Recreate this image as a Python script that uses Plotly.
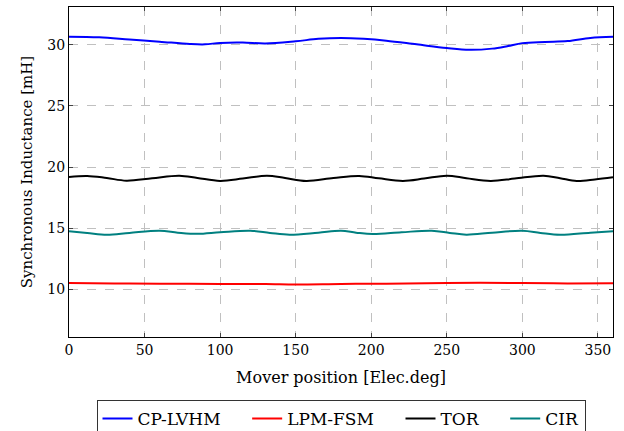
import plotly.graph_objects as go

# Mover position samples [electrical degrees] and synchronous inductance [mH]
pos_cp = [0, 20, 40, 60, 80, 90, 100, 115, 130, 150, 165, 180, 195, 210, 230, 250, 265, 280, 290, 300, 315, 330, 345, 360]
cp_lvhm = [30.68, 30.63, 30.45, 30.27, 30.08, 30.05, 30.17, 30.2, 30.12, 30.3, 30.5, 30.57, 30.5, 30.35, 30.05, 29.75, 29.6, 29.7, 29.9, 30.15, 30.25, 30.32, 30.58, 30.68]

pos_lpm = [0, 30, 60, 100, 130, 150, 180, 210, 250, 300, 330, 360]
lpm_fsm = [10.5, 10.45, 10.44, 10.42, 10.42, 10.38, 10.42, 10.44, 10.5, 10.5, 10.46, 10.47]

pos_tor = [0, 12, 25, 38, 55, 73, 85, 100, 115, 131, 143, 157, 175, 192, 205, 221, 235, 250, 263, 279, 295, 314, 325, 336, 348, 360]
tor = [19.18, 19.27, 19.1, 18.88, 19.08, 19.29, 19.1, 18.86, 19.05, 19.29, 19.1, 18.86, 19.1, 19.27, 19.07, 18.86, 19.05, 19.29, 19.08, 18.86, 19.05, 19.29, 19.08, 18.86, 18.98, 19.16]

pos_cir = [0, 12, 25, 40, 60, 72, 85, 100, 120, 133, 146, 165, 180, 190, 201, 220, 240, 252, 263, 280, 300, 312, 325, 345, 360]
cir = [14.73, 14.6, 14.45, 14.6, 14.78, 14.62, 14.52, 14.65, 14.78, 14.6, 14.45, 14.62, 14.78, 14.62, 14.5, 14.65, 14.78, 14.6, 14.45, 14.62, 14.78, 14.6, 14.45, 14.62, 14.73]

x_ticks = [0, 50, 100, 150, 200, 250, 300, 350]
y_ticks = [10, 15, 20, 25, 30]

FONT = "DejaVu Serif"
PAD = "\u00a0" * 4  # extra spacing between legend entries

fig = go.Figure()
series = [
    ("CP-LVHM", pos_cp, cp_lvhm, "#0000ff", PAD),
    ("LPM-FSM", pos_lpm, lpm_fsm, "#ff0000", PAD),
    ("TOR", pos_tor, tor, "#000000", PAD),
    ("CIR", pos_cir, cir, "#008080", ""),
]
for name, xs, ys, col, pad in series:
    fig.add_trace(go.Scatter(
        x=xs, y=ys, name=name + pad, mode="lines",
        line=dict(color=col, width=2, shape="spline", smoothing=1.0),
    ))

axis_common = dict(
    showline=True, linecolor="black", linewidth=1, mirror="ticks",
    ticks="inside", ticklen=4, tickcolor="#444444",
    showgrid=True, gridcolor="#c0c0c0", griddash="dash", gridwidth=1,
    zeroline=False,
    tickfont=dict(family=FONT, size=14, color="black"),
)

fig.update_xaxes(
    range=[0, 360], tickvals=x_ticks,
    title=dict(text="Mover position [Elec.deg]", font=dict(family=FONT, size=16, color="black"), standoff=15),
    **axis_common,
)
fig.update_yaxes(
    range=[6.07, 33.11], tickvals=y_ticks,
    title=dict(text="Synchronous Inductance [mH]", font=dict(family=FONT, size=15, color="black"), standoff=11),
    **axis_common,
)

fig.update_layout(
    width=624, height=431,
    margin=dict(l=69, r=11, t=7, b=94, autoexpand=False),
    plot_bgcolor="white", paper_bgcolor="white",
    font=dict(family=FONT, size=14, color="black"),
    showlegend=True,
    legend=dict(
        orientation="h", x=0.5, xanchor="center",
        yref="container", y=0.072, yanchor="top",
        bordercolor="#333333", borderwidth=1,
        font=dict(family=FONT, size=17, color="black"),
    ),
)

fig.write_html("out.html")
